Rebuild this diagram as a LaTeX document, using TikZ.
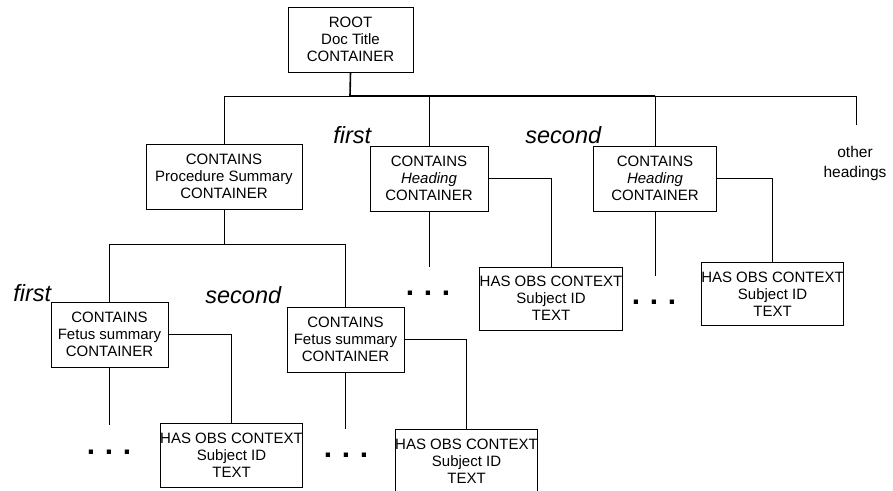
\documentclass[tikz,border=0pt]{standalone}
\usepackage{fontspec}
\setmainfont{Liberation Sans}
\usetikzlibrary{positioning, calc}

\begin{document}
\begin{tikzpicture}[x=1pt, y=-1pt, line width=0.8pt,
    box/.style={draw, line width=0.8pt, align=center, inner sep=0pt, minimum height=65pt, font=\fontsize{15}{17}\selectfont},
    obsbox/.style={box, minimum width=142pt, minimum height=63pt},
    order/.style={font=\fontsize{23.5}{26}\selectfont\itshape, inner sep=0pt, anchor=base west},
    more/.style={font=\fontsize{30}{30}\selectfont\bfseries, inner sep=0pt},
    bus/.style={line width=1.6pt}]

  \useasboundingbox (0,0) rectangle (893,490);

  % top level
  \node[box, minimum width=125pt] (root) at (350.5,39.5) {ROOT\\Doc Title\\CONTAINER};
  \coordinate (hub) at (350,96);

  \node[box, minimum width=156pt] (proc) at (224,176.5) {CONTAINS\\Procedure Summary\\CONTAINER};
  \node[box, minimum width=118pt] (headA) at (429,178.5) {CONTAINS\\\textit{Heading}\\CONTAINER};
  \node[box, minimum width=123pt] (headB) at (655,178.5) {CONTAINS\\\textit{Heading}\\CONTAINER};
  \node[align=center, inner sep=0pt, font=\fontsize{15.5}{20}\selectfont] (others) at (855,163) {other\\headings};
  \coordinate (othersTop) at (856,125);

  \node[order] (firstA) at (333,143) {first};
  \node[order] (secondA) at (525,143) {second};

  \draw[bus] (root.south) -- (hub) -- (hub -| headB.north);
  \draw (hub) -| (proc.north);
  \draw (hub -| headA.north) -- (headA.north);
  \draw (hub -| headB.north) -- (headB.north);
  \draw (hub -| headB.north) -| (othersTop);

  % headings
  \node[obsbox] (obsA) at (551,298.5) {HAS OBS CONTEXT\\Subject ID\\TEXT};
  \node[obsbox] (obsB) at (772.5,294) {HAS OBS CONTEXT\\Subject ID\\TEXT};
  \coordinate (tailA) at (429,267);
  \coordinate (tailB) at (655,276);
  \node[more] (dotsA) at (428,293) {.\hspace{9.7pt}.\hspace{9.7pt}.};
  \node[more] (dotsB) at (654,302) {.\hspace{9.7pt}.\hspace{9.7pt}.};

  \draw (headA.south) -- (tailA);
  \draw (headB.south) -- (tailB);
  \draw (headA.east) -| (obsA.north);
  \draw (headB.east) -| (obsB.north);

  % procedure summary
  \node[box, minimum width=117pt] (fetusA) at (109.5,334.5) {CONTAINS\\Fetus summary\\CONTAINER};
  \node[box, minimum width=117pt] (fetusB) at (345.5,339.5) {CONTAINS\\Fetus summary\\CONTAINER};
  \node[order] (firstB) at (13,301) {first};
  \node[order] (secondB) at (205,303) {second};

  \draw (proc.south) -- ++(0,35) coordinate (split);
  \draw (split) -| (fetusA.north);
  \draw (split) -| (fetusB.north);

  \node[obsbox, minimum height=64pt] (obsC) at (231.5,455) {HAS OBS CONTEXT\\Subject ID\\TEXT};
  \node[obsbox, minimum height=64pt] (obsD) at (466.5,461) {HAS OBS CONTEXT\\Subject ID\\TEXT};
  \coordinate (tailC) at (109.5,425);
  \coordinate (tailD) at (345.5,429);
  \node[more] (dotsC) at (109,452) {.\hspace{9.7pt}.\hspace{9.7pt}.};
  \node[more] (dotsD) at (346,455) {.\hspace{9.7pt}.\hspace{9.7pt}.};

  \draw (fetusA.south) -- (tailC);
  \draw (fetusB.south) -- (tailD);
  \draw (fetusA.east) -| (obsC.north);
  \draw (fetusB.east) -| (obsD.north);

\end{tikzpicture}
\end{document}
